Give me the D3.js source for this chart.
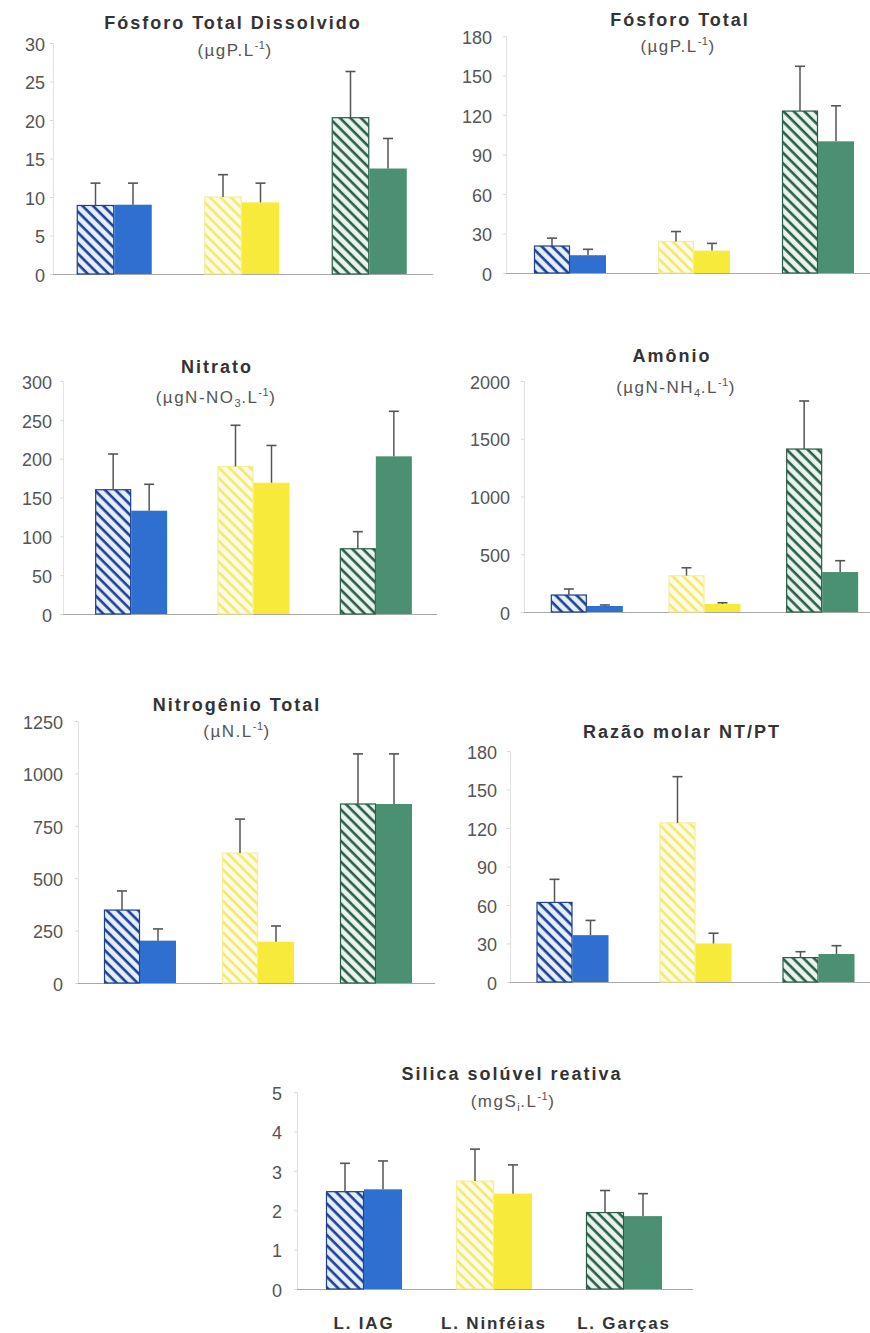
<!DOCTYPE html>
<html><head><meta charset="utf-8">
<script src="https://cdn.jsdelivr.net/npm/d3@7"></script>
<style>body{margin:0;background:#fff} svg{display:block}</style>
</head><body>
<svg id="c" width="870" height="1333"></svg>
<script>
// ---------- DATA ----------
const categories = ["L. IAG", "L. Ninféias", "L. Garças"];
const seriesKeys = ["hachurado", "sólido"];
const lakeColors = ["#2f6fcf", "#f7ea3a", "#4b9073"];

const ptdMean = [[8.9, 10.0, 20.3], [9.0, 9.3, 13.7]];
const ptdSD   = [[2.9, 2.9, 6.0], [2.8, 2.5, 3.9]];
const ptdTicks = [0, 5, 10, 15, 20, 25, 30];

const ptMean = [[20.5, 24, 123], [13.5, 17, 100]];
const ptSD   = [[6, 7.5, 34], [4.5, 5.5, 27]];
const ptTicks = [0, 30, 60, 90, 120, 150, 180];

const no3Mean = [[160, 190, 84], [133, 169, 203]];
const no3SD   = [[46, 53, 22], [34, 48, 58]];
const no3Ticks = [0, 50, 100, 150, 200, 250, 300];

const nh4Mean = [[147, 315, 1411], [52, 69, 346]];
const nh4SD   = [[52, 68, 416], [9, 11, 98]];
const nh4Ticks = [0, 500, 1000, 1500, 2000];

const ntMean = [[348, 620, 854], [202, 197, 854]];
const ntSD   = [[91, 162, 239], [56, 75, 239]];
const ntTicks = [0, 250, 500, 750, 1000, 1250];

const razaoMean = [[62, 124, 19], [36.5, 30, 21.8]];
const razaoSD   = [[18, 36, 4.6], [11.5, 8, 6.5]];
const razaoTicks = [0, 30, 60, 90, 120, 150, 180];

const silicaMean = [[2.47, 2.74, 1.94], [2.53, 2.42, 1.85]];
const silicaSD   = [[0.72, 0.81, 0.56], [0.72, 0.73, 0.57]];
const silicaTicks = [0, 1, 2, 3, 4, 5];

// title / unit texts
const titles = ["Fósforo Total Dissolvido", "Fósforo Total", "Nitrato", "Amônio", "Nitrogênio Total", "Razão molar NT/PT", "Silica solúvel reativa"];
const units = [
  [["(µgP.L"], ["-1", "sup"], [")"]],
  [["(µgP.L"], ["-1", "sup"], [")"]],
  [["(µgN-NO"], ["3", "sub"], [".L"], ["-1", "sup"], [")"]],
  [["(µgN-NH"], ["4", "sub"], [".L"], ["-1", "sup"], [")"]],
  [["(µN.L"], ["-1", "sup"], [")"]],
  null,
  [["(mgS"], ["i", "sub"], [".L"], ["-1", "sup"], [")"]]
];

// ---------- LAYOUT ----------
const layout = [
  {mean: ptdMean, sd: ptdSD, ticks: ptdTicks, x0: 50.5, x1: 433, axisX: 53, labelR: 45, yZero: 274, yTop: 43, bw: 37.5, tx: 233, ty: 23, ux: 235, uy: 56},
  {mean: ptMean, sd: ptSD, ticks: ptTicks, x0: 508, x1: 880, axisX: 506, labelR: 492, yZero: 273, yTop: 36, bw: 36, tx: 680, ty: 20, ux: 678, uy: 52},
  {mean: no3Mean, sd: no3SD, ticks: no3Ticks, x0: 70, x1: 437, axisX: 63, labelR: 52, yZero: 614, yTop: 381, bw: 36, tx: 217, ty: 367, ux: 216, uy: 403},
  {mean: nh4Mean, sd: nh4SD, ticks: nh4Ticks, x0: 528, x1: 881, axisX: 524, labelR: 510, yZero: 612, yTop: 381, bw: 36, tx: 672, ty: 356, ux: 676, uy: 393},
  {mean: ntMean, sd: ntSD, ticks: ntTicks, x0: 81, x1: 435, axisX: 78, labelR: 63, yZero: 983, yTop: 721, bw: 36, tx: 237, ty: 705, ux: 237, uy: 737},
  {mean: razaoMean, sd: razaoSD, ticks: razaoTicks, x0: 511, x1: 880, axisX: 510, labelR: 497, yZero: 982, yTop: 751, bw: 36, tx: 682, ty: 732},
  {mean: silicaMean, sd: silicaSD, ticks: silicaTicks, x0: 299, x1: 689, axisX: 297, labelR: 282, yZero: 1289, yTop: 1092, bw: 38, tx: 512, ty: 1074, ux: 513, uy: 1107, xLabels: true, x1Line: 693}
];

const hatchLine = ["#1f3f8f", "#f3e96e", "#2c5c48"];
const hatchBg = ["#e4eefc", "#fdfbe6", "#e8f5ee"];
const hatchStroke = ["#1f3f8f", "#f6ef9a", "#2c5c48"];

const svg = d3.select("#c");
const defs = svg.append("defs");
const PS = 7.4;
lakeColors.forEach((c, i) => {
  const p = defs.append("pattern").attr("id", "h" + i)
    .attr("patternUnits", "userSpaceOnUse").attr("width", PS).attr("height", PS)
    .attr("patternTransform", "rotate(-45)");
  p.append("rect").attr("width", PS).attr("height", PS).attr("fill", hatchBg[i]);
  p.append("line").attr("x1", 1.6).attr("x2", 1.6).attr("y1", 0).attr("y2", PS)
    .attr("stroke", hatchLine[i]).attr("stroke-width", 2.6);
});

const FONT = "'Liberation Sans', Arial, sans-serif";

layout.forEach((p, pi) => {
  const g = svg.append("g");
  const x = d3.scaleBand().domain(categories).range([p.x0, p.x1]);
  const xs = d3.scaleBand().domain(seriesKeys).range([0, 2 * p.bw]);
  const y = d3.scaleLinear().domain([0, p.ticks[p.ticks.length - 1]]).range([p.yZero, p.yTop]);

  const ax = g.append("g").attr("transform", `translate(${p.axisX},0)`)
    .call(d3.axisLeft(y).tickValues(p.ticks).tickFormat(d3.format("d"))
      .tickSize(3).tickSizeOuter(0).tickPadding(p.axisX - p.labelR - 3));
  ax.select(".domain").attr("stroke", "#e2e2e2");
  ax.selectAll(".tick line").attr("stroke", "#d8d8d8");
  ax.selectAll(".tick text").attr("font-family", FONT).attr("font-size", 18).attr("fill", "#555").attr("dy", "0.4em");

  // zero baseline
  g.append("line").attr("x1", p.axisX).attr("x2", p.x1Line || Math.min(p.x1, 870))
    .attr("y1", y(0) + 0.5).attr("y2", y(0) + 0.5).attr("stroke", "#a8a8a8").attr("stroke-width", 1.2);

  seriesKeys.forEach((s, si) => {
    categories.forEach((c, ci) => {
      const v = p.mean[si][ci], e = p.sd[si][ci];
      const bx = x(c) + x.bandwidth() / 2 - p.bw + xs(s);
      const top = y(v);
      if (si === 0) {
        g.append("rect").attr("x", bx + 0.5).attr("y", top).attr("width", p.bw - 1).attr("height", y(0) - top)
          .attr("fill", `url(#h${ci})`).attr("stroke", hatchStroke[ci]).attr("stroke-width", 1.2);
      } else {
        g.append("rect").attr("x", bx).attr("y", top).attr("width", p.bw).attr("height", y(0) - top)
          .attr("fill", lakeColors[ci]);
      }
      const cx = bx + p.bw / 2;
      g.append("line").attr("x1", cx).attr("x2", cx).attr("y1", top).attr("y2", y(v + e))
        .attr("stroke", "#555").attr("stroke-width", 1.5);
      g.append("line").attr("x1", cx - 5).attr("x2", cx + 5).attr("y1", y(v + e)).attr("y2", y(v + e))
        .attr("stroke", "#555").attr("stroke-width", 1.6);
    });
  });

  // title
  g.append("text").attr("x", p.tx).attr("y", p.ty).attr("dy", "0.35em").attr("text-anchor", "middle")
    .attr("font-family", FONT).attr("font-weight", "bold").attr("font-size", 18)
    .attr("letter-spacing", "2px").attr("fill", "#333").text(titles[pi]);

  if (units[pi]) {
    const t = g.append("text").attr("x", p.ux).attr("y", p.uy).attr("dy", "0.35em").attr("text-anchor", "middle")
      .attr("font-family", FONT).attr("font-size", 17).attr("letter-spacing", "1.5px").attr("fill", "#555");
    let shift = 0;
    units[pi].forEach(([txt, kind]) => {
      let target = 0;
      if (kind === "sup") target = -7;
      else if (kind === "sub") target = 4;
      const ts = t.append("tspan").attr("dy", target - shift).text(txt);
      if (kind) ts.attr("font-size", 11).attr("letter-spacing", "0.5px");
      shift = target;
    });
  }

  if (p.xLabels) {
    g.selectAll(".cat").data(categories).enter().append("text")
      .attr("x", d => x(d) + x.bandwidth() / 2).attr("y", 1323).attr("dy", "0.35em")
      .attr("text-anchor", "middle").attr("font-family", FONT).attr("font-weight", "bold")
      .attr("font-size", 17).attr("letter-spacing", "1.8px").attr("fill", "#333").text(d => d);
  }
});
</script>
</body></html>
